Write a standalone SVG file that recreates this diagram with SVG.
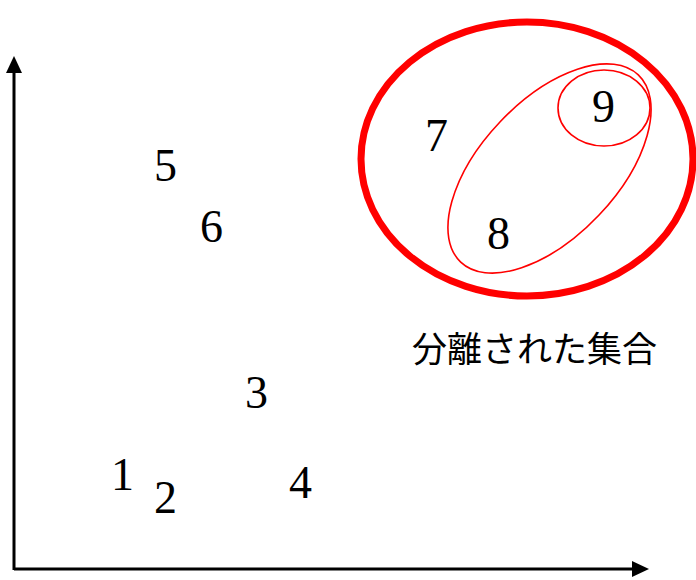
<svg xmlns="http://www.w3.org/2000/svg" width="696" height="580" viewBox="0 0 696 580">
<style>
.num{font-family:"Liberation Serif","Times New Roman",serif;font-size:46px;fill:#000}
.lbl{font-family:"Noto Sans CJK JP",sans-serif;font-size:35px;fill:#000}
.axis{stroke:#000;stroke-width:3;fill:none}
.thin{stroke:#ff0000;stroke-width:1.6;fill:none}
</style>
<g id="connectors">
<path class="axis" d="M14,570 L14,72"/>
<polygon points="14,56 6,73 22,73" fill="#000"/>
<path class="axis" d="M14,569 L633,569"/>
<polygon points="649,569 632,561 632,577" fill="#000"/>
</g>
<g id="set-outer"><ellipse cx="527" cy="159" rx="166" ry="137" fill="none" stroke="#ff0000" stroke-width="7"/></g>
<g id="set-89"><ellipse cx="549.5" cy="168.5" rx="129" ry="68" transform="rotate(-46.5 549.5 168.5)" class="thin"/></g>
<g id="set-9"><ellipse cx="604" cy="108" rx="46" ry="38" class="thin"/></g>
<g id="n1"><text class="num" x="111" y="490">1</text></g>
<g id="n2"><text class="num" x="154" y="513">2</text></g>
<g id="n3"><text class="num" x="245" y="408">3</text></g>
<g id="n4"><text class="num" x="289" y="498">4</text></g>
<g id="n5"><text class="num" x="154" y="181">5</text></g>
<g id="n6"><text class="num" x="200" y="242">6</text></g>
<g id="n7"><text class="num" x="425" y="151">7</text></g>
<g id="n8"><text class="num" x="487" y="249">8</text></g>
<g id="n9"><text class="num" x="592" y="122">9</text></g>
<g id="label"><text class="lbl" x="412" y="362">分離された集合</text></g>
</svg>
